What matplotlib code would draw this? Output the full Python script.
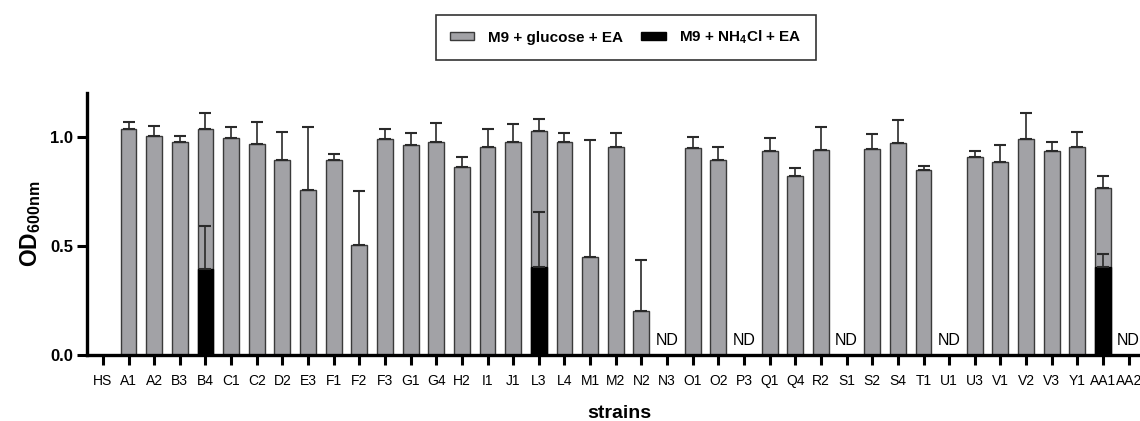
import numpy as np
import matplotlib
matplotlib.use('Agg')
import matplotlib.pyplot as plt
from matplotlib.patches import Patch

plt.rcParams['font.family'] = ['Liberation Sans', 'DejaVu Sans']
plt.rcParams['mathtext.fontset'] = 'custom'
plt.rcParams['mathtext.rm'] = 'Liberation Sans'
plt.rcParams['mathtext.bf'] = 'Liberation Sans:bold'

# strains on the x axis
strains = ['HS', 'A1', 'A2', 'B3', 'B4', 'C1', 'C2', 'D2', 'E3', 'F1', 'F2', 'F3',
           'G1', 'G4', 'H2', 'I1', 'J1', 'L3', 'L4', 'M1', 'M2', 'N2', 'N3', 'O1',
           'O2', 'P3', 'Q1', 'Q4', 'R2', 'S1', 'S2', 'S4', 'T1', 'U1', 'U3', 'V1',
           'V2', 'V3', 'Y1', 'AA1', 'AA2']

# M9 + glucose + EA (None = no bar)
glucose_mean = [None, 1.035, 1.003, 0.975, 1.037, 0.992, 0.965, 0.894, 0.755, 0.893, 0.505, 0.991,
                0.962, 0.975, 0.861, 0.951, 0.975, 1.028, 0.975, 0.451, 0.951, 0.200, None, 0.946,
                0.894, None, 0.933, 0.818, 0.937, None, 0.942, 0.971, 0.846, None, 0.907, 0.882,
                0.991, 0.934, 0.954, 0.767, None]
glucose_err = [0, 0.031, 0.044, 0.027, 0.070, 0.051, 0.101, 0.127, 0.288, 0.026, 0.244, 0.046,
               0.053, 0.086, 0.044, 0.083, 0.082, 0.053, 0.040, 0.535, 0.064, 0.236, 0, 0.051,
               0.060, 0, 0.059, 0.040, 0.107, 0, 0.069, 0.104, 0.021, 0, 0.029, 0.081,
               0.116, 0.043, 0.069, 0.054, 0]

# M9 + NH4Cl + EA (only three strains grew)
nh4cl_strains = ['B4', 'L3', 'AA1']
nh4cl_mean = [0.393, 0.405, 0.405]
nh4cl_err = [0.200, 0.251, 0.058]

# strains marked ND (not detected)
nd_strains = ['N3', 'P3', 'S1', 'U1', 'AA2']

gray = '#a2a2a6'
edge = '#3a3a3a'

fig = plt.figure(figsize=(11.4, 4.21), dpi=100)
ax = fig.add_axes([0.0763, 0.1568, 0.934, 0.6223])

x = np.arange(len(strains))
g_idx = [i for i, v in enumerate(glucose_mean) if v is not None]
g_val = [glucose_mean[i] for i in g_idx]
g_err = [glucose_err[i] for i in g_idx]

width = 0.62
ax.bar(g_idx, g_val, width=width, color=gray, edgecolor=edge, linewidth=1.0, zorder=2)
ax.errorbar(g_idx, g_val, yerr=[np.zeros(len(g_err)), g_err], fmt='none',
            ecolor='#2a2a2a', elinewidth=1.2, capsize=4.5, capthick=1.5, zorder=3)

n_idx = [strains.index(s) for s in nh4cl_strains]
ax.bar(n_idx, nh4cl_mean, width=width, color='black', edgecolor='black', linewidth=1.0, zorder=4)
ax.errorbar(n_idx, nh4cl_mean, yerr=[np.zeros(len(nh4cl_err)), nh4cl_err], fmt='none',
            ecolor='#2a2a2a', elinewidth=1.2, capsize=4.5, capthick=1.5, zorder=5)

for s in nd_strains:
    ax.text(strains.index(s), 0.068, 'ND', ha='center', va='center', fontsize=11.5,
            clip_on=False, zorder=6)

ax.set_xlim(-0.62, 40.9)
ax.set_ylim(0, 1.2)
ax.set_yticks([0.0, 0.5, 1.0])
ax.set_yticklabels(['0.0', '0.5', '1.0'], fontsize=12, fontweight='bold')
ax.set_xticks(x)
ax.set_xticklabels(strains, fontsize=10,
                   fontfamily=['Liberation Sans Narrow', 'Liberation Sans'])

for side in ['top', 'right']:
    ax.spines[side].set_visible(False)
for side in ['left', 'bottom']:
    ax.spines[side].set_linewidth(2.4)
ax.tick_params(axis='both', width=2.2, length=7)
ax.tick_params(axis='y', pad=3)
ax.tick_params(axis='x', pad=7)

ax.set_ylabel(r'$\mathbf{OD}_{\mathbf{600nm}}$', fontsize=16.5, labelpad=5)
ax.set_xlabel('strains', fontsize=14, fontweight='bold', labelpad=12)

handles = [Patch(facecolor=gray, edgecolor=edge, linewidth=1.0),
           Patch(facecolor='black', edgecolor='black')]
labels = ['M9 + glucose + EA', r'M9 + NH$_\mathbf{4}$Cl + EA']
leg = fig.legend(handles, labels, loc='center', bbox_to_anchor=(0.549, 0.911), ncol=2,
                 frameon=True, fancybox=False, edgecolor='black', handlelength=1.6,
                 handleheight=0.45, handletextpad=0.9, columnspacing=1.2, borderpad=0.9,
                 borderaxespad=0, prop={'weight': 'bold', 'size': 11})
leg.get_frame().set_linewidth(1.2)

fig.savefig('out.png', dpi=100)
